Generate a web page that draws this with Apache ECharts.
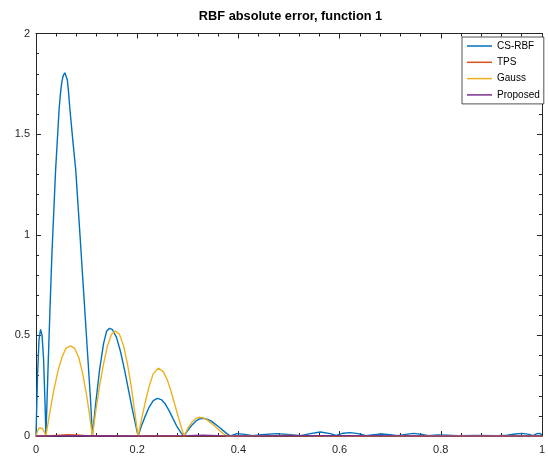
<!DOCTYPE html>
<html>
<head>
<meta charset="utf-8">
<script src="https://cdn.jsdelivr.net/npm/echarts@6/dist/echarts.min.js"></script>
<style>
html,body{margin:0;padding:0;background:#fff;}
#chart{width:548px;height:456px;}
</style>
</head>
<body>
<div id="chart"></div>
<script>
// ---- data ----
var chartTitle = 'RBF absolute error, function 1';
var seriesNames = ['CS-RBF', 'TPS', 'Gauss', 'Proposed'];
var seriesColors = ['#0072BD', '#D95319', '#EDB120', '#7E2F8E'];
var xTickValues = [0, 0.2, 0.4, 0.6, 0.8, 1];
var yTickValues = [0, 0.5, 1, 1.5, 2];

var csrbf = [
  [0,0],[0.003,0.3],[0.006,0.48],[0.009,0.53],[0.012,0.5],[0.015,0.38],[0.018,0.15],[0.0196,0],
  [0.0236,0.32],[0.0275,0.62],[0.0314,0.9],[0.0354,1.13],[0.0387,1.32],[0.0422,1.47],[0.0458,1.63],
  [0.0487,1.71],[0.0511,1.76],[0.054,1.792],[0.057,1.805],[0.0595,1.797],[0.0619,1.77],[0.0643,1.71],
  [0.0668,1.63],[0.0727,1.47],[0.0786,1.32],[0.0864,1.02],
  [0.0943,0.71],[0.1022,0.4],[0.108,0.17],[0.1114,0],
  [0.1179,0.16],[0.1257,0.33],[0.1336,0.46],[0.1395,0.52],[0.1454,0.535],[0.1513,0.528],[0.1591,0.49],
  [0.167,0.42],[0.1749,0.33],[0.1827,0.23],[0.1906,0.13],[0.1965,0.06],[0.2018,0],
  [0.2083,0.05],[0.2161,0.1],[0.224,0.145],[0.2318,0.176],[0.2397,0.187],[0.2475,0.181],[0.2554,0.16],
  [0.2633,0.125],[0.2711,0.085],[0.279,0.045],[0.2868,0.015],[0.2927,0],
  [0.3006,0.03],[0.3084,0.055],[0.3163,0.075],[0.3242,0.086],[0.3301,0.088],[0.3379,0.084],[0.3458,0.075],
  [0.3536,0.06],[0.3615,0.045],[0.3694,0.028],[0.3772,0.012],[0.3845,0],
  [0.397,0.012],[0.4126,0.008],[0.4283,0.002],[0.446,0.006],[0.4754,0.012],[0.5049,0.006],[0.5226,0.001],
  [0.5422,0.012],[0.5619,0.02],[0.5815,0.012],[0.5933,0.003],[0.6071,0.014],[0.6208,0.017],[0.6365,0.012],
  [0.6523,0.002],[0.668,0.007],[0.6837,0.01],[0.6994,0.007],[0.7151,0.001],[0.7308,0.008],[0.7466,0.013],
  [0.7623,0.008],[0.776,0.002],[0.7937,0.005],[0.8134,0.004],[0.833,0.001],[0.8723,0.003],[0.9116,0.001],
  [0.9312,0.004],[0.947,0.01],[0.9607,0.013],[0.9745,0.008],[0.9823,0.002],[0.9902,0.012],[0.9961,0.013],[1,0.005]
];

var tps = [
  [0,0],[0.02,0],[0.04,0.003],[0.06,0.006],[0.08,0.005],[0.1,0.002],[0.111,0],[0.15,0.002],[0.2,0],
  [0.25,0.001],[0.29,0],[0.33,0.002],[0.38,0],[0.5,0.002],[0.6,0],[0.8,0.001],[1,0]
];

var gauss = [
  [0,0],[0.003,0.025],[0.006,0.04],[0.0098,0.043],[0.013,0.037],[0.016,0.022],[0.0196,0],
  [0.0275,0.12],[0.0354,0.23],[0.0432,0.32],[0.0511,0.39],[0.0589,0.435],[0.0682,0.448],[0.0766,0.435],
  [0.0845,0.39],[0.0923,0.31],[0.1002,0.2],[0.1061,0.1],[0.1114,0],
  [0.1179,0.12],[0.1257,0.25],[0.1336,0.36],[0.1415,0.45],[0.1493,0.505],[0.1572,0.522],[0.165,0.505],
  [0.1729,0.45],[0.1807,0.36],[0.1886,0.24],[0.1945,0.13],[0.2018,0],
  [0.2083,0.08],[0.2161,0.17],[0.224,0.25],[0.2318,0.31],[0.2417,0.337],[0.2515,0.32],[0.2593,0.28],
  [0.2672,0.22],[0.275,0.15],[0.2829,0.08],[0.2888,0.03],[0.2927,0],
  [0.3006,0.04],[0.3084,0.07],[0.3163,0.088],[0.3222,0.093],[0.3301,0.09],[0.3379,0.08],[0.3458,0.065],
  [0.3536,0.048],[0.3615,0.03],[0.3694,0.013],[0.3772,0],
  [0.45,0.002],[0.5,0.003],[0.55,0.001],[0.7,0.001],[0.9,0.001],[1,0]
];

var proposed = [
  [0,0],[0.1,0.001],[0.2,0],[0.3,0.002],[0.33,0.004],[0.36,0.002],[0.4,0],[0.5,0.001],[0.6,0.001],[0.8,0],[1,0]
];

var seriesData = [csrbf, tps, gauss, proposed];

// ---- chart ----
var axisColor = '#262626';
var fontFam = '"Liberation Sans", Arial, Helvetica, sans-serif';

function xAxisCfg(pos, showLabel) {
  return {
    type: 'value', position: pos, min: xTickValues[0], max: xTickValues[xTickValues.length - 1],
    interval: xTickValues[1] - xTickValues[0],
    axisLine: {show: true, onZero: false, lineStyle: {color: axisColor, width: 1}},
    axisTick: {show: true, inside: true, length: 5, lineStyle: {color: axisColor, width: 1}},
    minorTick: {show: true, splitNumber: 5, length: 3, lineStyle: {color: axisColor, width: 1}},
    splitLine: {show: false},
    axisLabel: {show: showLabel, color: axisColor, fontSize: 11, fontFamily: fontFam, margin: 8}
  };
}
function yAxisCfg(pos, showLabel) {
  return {
    type: 'value', position: pos, min: yTickValues[0], max: yTickValues[yTickValues.length - 1],
    interval: yTickValues[1] - yTickValues[0],
    axisLine: {show: true, onZero: false, lineStyle: {color: axisColor, width: 1}},
    axisTick: {show: true, inside: true, length: 5, lineStyle: {color: axisColor, width: 1}},
    minorTick: {show: true, splitNumber: 5, length: 3, lineStyle: {color: axisColor, width: 1}},
    splitLine: {show: false},
    axisLabel: {show: showLabel, color: axisColor, fontSize: 11, fontFamily: fontFam, margin: 6}
  };
}

var chart = echarts.init(document.getElementById('chart'), null, {renderer: 'canvas'});
chart.setOption({
  backgroundColor: '#ffffff',
  animation: false,
  title: {
    text: chartTitle, left: 285.5, top: 5, textAlign: 'center',
    textStyle: {fontSize: 12.8, fontWeight: 'bold', color: '#000', fontFamily: fontFam}
  },
  grid: {left: 36, right: 3, top: 33.5, bottom: 20, containLabel: false},
  legend: {
    orient: 'vertical', left: 462, top: 37,
    data: seriesNames.map(function (n) { return {name: n, icon: 'rect'}; }),
    itemWidth: 25, itemHeight: 1.5, itemGap: 4.3,
    padding: [3, 4, 3, 5],
    backgroundColor: '#fff', borderColor: axisColor, borderWidth: 0.8,
    textStyle: {fontSize: 10, lineHeight: 12, color: '#000', fontFamily: fontFam}
  },
  xAxis: [xAxisCfg('bottom', true), xAxisCfg('top', false)],
  yAxis: [yAxisCfg('left', true), yAxisCfg('right', false)],
  series: seriesNames.map(function (name, i) {
    return {
      name: name, type: 'line', xAxisIndex: 0, yAxisIndex: 0,
      data: seriesData[i], symbol: 'none', smooth: false,
      lineStyle: {color: seriesColors[i], width: 1.4},
      itemStyle: {color: seriesColors[i]}
    };
  })
});
</script>
</body>
</html>
